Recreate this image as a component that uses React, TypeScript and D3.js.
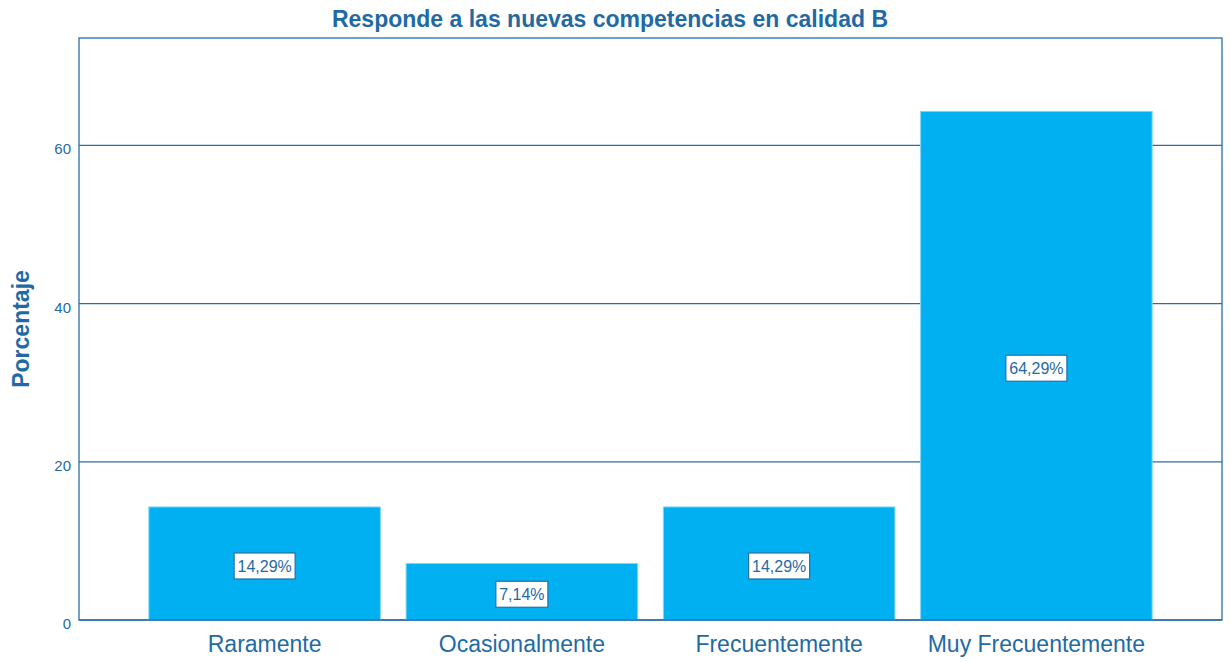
import React from "react";
import * as d3 from "d3";

const categories = ["Raramente", "Ocasionalmente", "Frecuentemente", "Muy Frecuentemente"];
const values = [14.29, 7.14, 14.29, 64.29];
const yTicks = [0, 20, 40, 60];
const title = "Responde a las nuevas competencias en calidad B";
const yLabel = "Porcentaje";

const W = 1231, H = 662;
const left = 79, right = 1222, top = 38, bottom = 620;
const textColor = "#1f6aa5";
const lineColor = "#2b6ea6";
const barColor = "#00b0f0";
const font = "'Liberation Sans', Arial, sans-serif";

export default function App() {
  const y = d3.scaleLinear().domain([0, 73.57]).range([bottom, top]);
  const x = d3.scaleBand<string>().domain(categories).range([136, 1165]).paddingInner(0.1).paddingOuter(0.05);
  const fmt = (v: number) => v.toFixed(2).replace(".", ",") + "%";
  return (
    <svg width={W} height={H} style={{ position: "absolute", left: 0, top: 0 }} fontFamily={font}>
      <rect x={0} y={0} width={W} height={H} fill="#fff" />
      <text x={610} y={27} textAnchor="middle" fontSize={23} fontWeight="bold" fill={textColor}>{title}</text>
      {yTicks.map((t) => (
        <g key={t}>
          {t > 0 && <line x1={left} x2={right} y1={y(t)} y2={y(t)} stroke={lineColor} strokeWidth={1.3} />}
          <text x={71} y={y(t) + 9} textAnchor="end" fontSize={15} fill={textColor}>{t}</text>
        </g>
      ))}
      <rect x={left} y={top} width={right - left} height={bottom - top} fill="none" stroke={lineColor} strokeWidth={1.3} />
      <text transform={`translate(29,329) rotate(-90)`} textAnchor="middle" fontSize={23} fontWeight="bold" fill={textColor}>{yLabel}</text>
      {categories.map((c, i) => {
        const bx = x(c)!;
        const bw = x.bandwidth();
        const v = values[i];
        const cy = (y(v) + y(0)) / 2 + 2.5;
        const label = fmt(v);
        const tw = label.length * 9 + 7;
        return (
          <g key={c}>
            <rect x={bx} y={y(v)} width={bw} height={y(0) - y(v)} fill={barColor} stroke="#7fd6f5" strokeWidth={1} />
            <rect x={bx + bw / 2 - tw / 2} y={cy - 13} width={tw} height={26} fill="#fff" stroke={lineColor} strokeWidth={1.2} />
            <text x={bx + bw / 2} y={cy + 6} textAnchor="middle" fontSize={16} fill={textColor}>{label}</text>
            <text x={bx + bw / 2} y={652} textAnchor="middle" fontSize={23} fill={textColor}>{c}</text>
          </g>
        );
      })}
      <line x1={left} x2={right} y1={bottom} y2={bottom} stroke={lineColor} strokeWidth={1.5} />
    </svg>
  );
}
